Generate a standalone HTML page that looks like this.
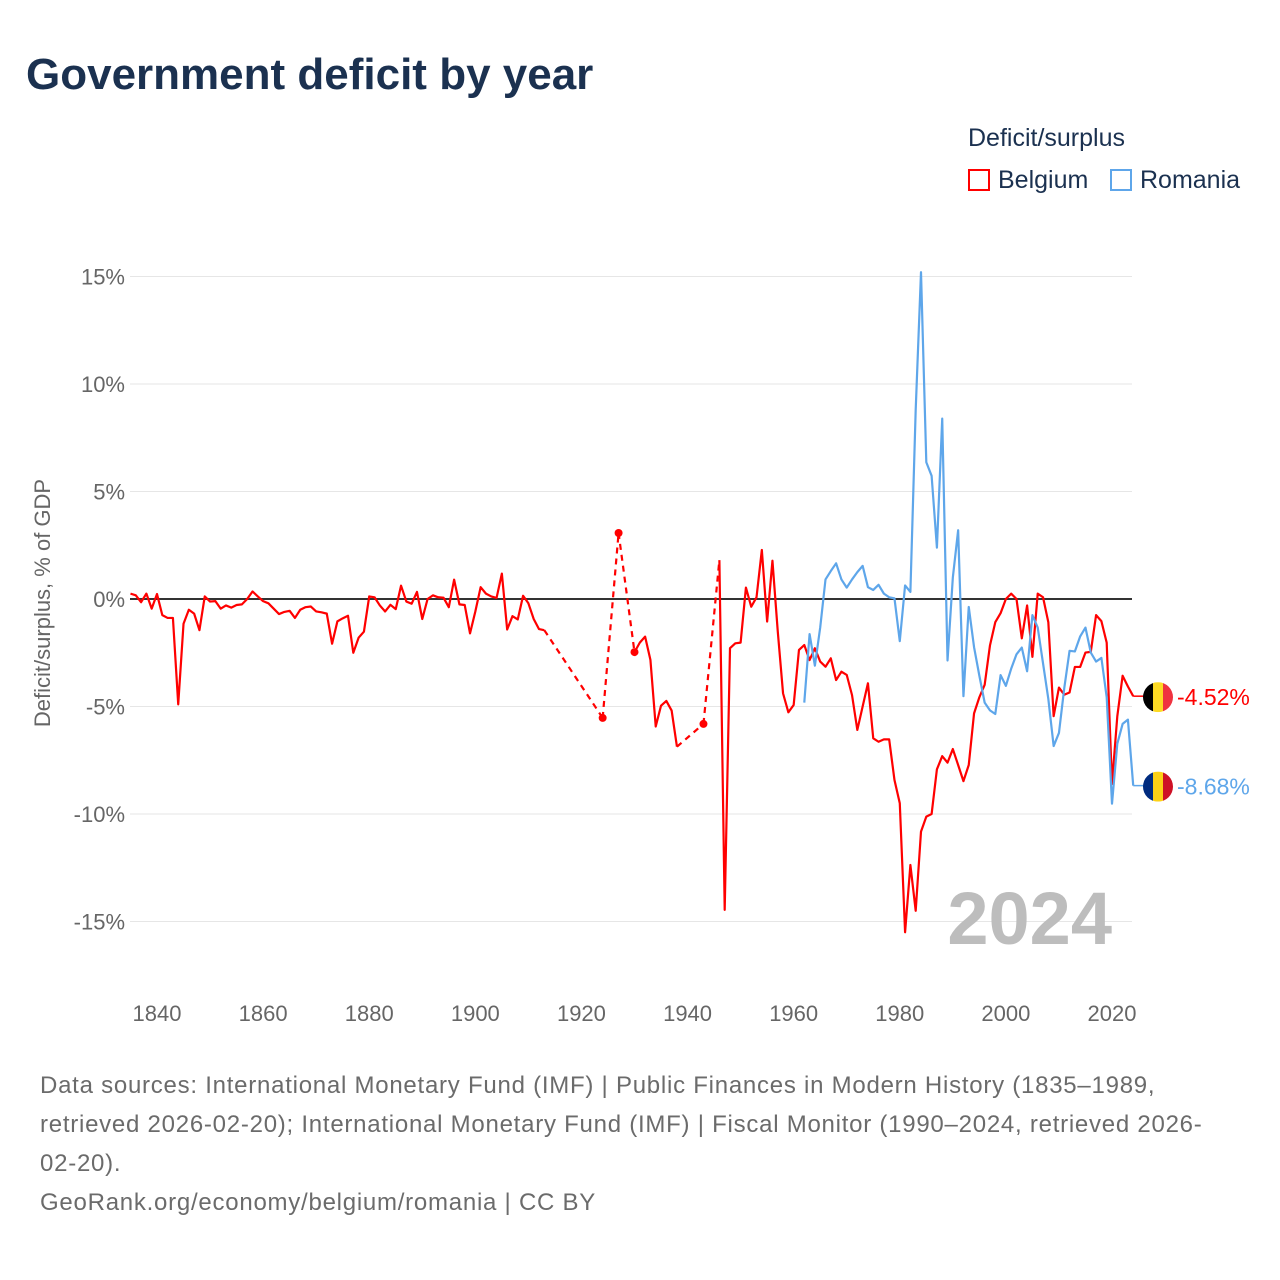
<!DOCTYPE html>
<html><head><meta charset="utf-8">
<style>
body{margin:0;background:#fff;font-family:"Liberation Sans",sans-serif;}
#wrap{position:relative;width:1280px;height:1280px;overflow:hidden;}
.t{position:absolute;white-space:nowrap;}
</style></head>
<body>
<div id="wrap">
<div class="t" style="left:26px;top:50px;font-size:44px;font-weight:bold;color:#1b3150;">Government deficit by year</div>
<div class="t" style="left:968px;top:124px;font-size:25px;color:#1b3150;">Deficit/surplus</div>
<div class="t" style="left:968px;top:166px;font-size:25px;color:#1b3150;"><span style="display:inline-block;width:22px;height:22px;border:2px solid #f00;box-sizing:border-box;vertical-align:-3px;margin-right:8px;"></span>Belgium</div>
<div class="t" style="left:1110px;top:166px;font-size:25px;color:#1b3150;"><span style="display:inline-block;width:22px;height:22px;border:2px solid #5ea6ea;box-sizing:border-box;vertical-align:-3px;margin-right:8px;"></span>Romania</div>
<svg id="chart" width="1280" height="1280" style="position:absolute;left:0;top:0;"></svg>
<div class="t" style="left:40px;top:1066px;font-size:24px;line-height:39px;color:#6b6b6b;letter-spacing:0.75px;">Data sources: International Monetary Fund (IMF) | Public Finances in Modern History (1835–1989,<br>retrieved 2026-02-20); International Monetary Fund (IMF) | Fiscal Monitor (1990–2024, retrieved 2026-<br>02-20).<br>GeoRank.org/economy/belgium/romania | CC BY</div>
</div>
<script>
const belYears=[1835,1836,1837,1838,1839,1840,1841,1842,1843,1844,1845,1846,1847,1848,1849,1850,1851,1852,1853,1854,1855,1856,1857,1858,1859,1860,1861,1862,1863,1864,1865,1866,1867,1868,1869,1870,1871,1872,1873,1874,1875,1876,1877,1878,1879,1880,1881,1882,1883,1884,1885,1886,1887,1888,1889,1890,1891,1892,1893,1894,1895,1896,1897,1898,1899,1900,1901,1902,1903,1904,1905,1906,1907,1908,1909,1910,1911,1912,1913,1924,1927,1930,1931,1932,1933,1934,1935,1936,1937,1938,1943,1946,1947,1948,1949,1950,1951,1952,1953,1954,1955,1956,1957,1958,1959,1960,1961,1962,1963,1964,1965,1966,1967,1968,1969,1970,1971,1972,1973,1974,1975,1976,1977,1978,1979,1980,1981,1982,1983,1984,1985,1986,1987,1988,1989,1990,1991,1992,1993,1994,1995,1996,1997,1998,1999,2000,2001,2002,2003,2004,2005,2006,2007,2008,2009,2010,2011,2012,2013,2014,2015,2016,2017,2018,2019,2020,2021,2022,2023,2024];
const belValues=[0.25,0.17,-0.15,0.25,-0.45,0.23,-0.75,-0.88,-0.88,-4.9,-1.15,-0.5,-0.68,-1.45,0.12,-0.12,-0.1,-0.45,-0.3,-0.4,-0.28,-0.25,0,0.35,0.12,-0.1,-0.2,-0.45,-0.7,-0.6,-0.55,-0.88,-0.5,-0.38,-0.35,-0.58,-0.62,-0.68,-2.08,-1.04,-0.9,-0.78,-2.5,-1.8,-1.52,0.12,0.08,-0.3,-0.58,-0.27,-0.47,0.62,-0.12,-0.22,0.33,-0.93,0,0.17,0.08,0.06,-0.38,0.9,-0.25,-0.28,-1.6,-0.58,0.55,0.25,0.12,0.05,1.18,-1.42,-0.8,-0.95,0.15,-0.2,-0.93,-1.4,-1.45,-5.53,3.07,-2.47,-2.03,-1.75,-2.83,-5.93,-4.96,-4.74,-5.19,-6.87,-5.81,1.81,-14.46,-2.29,-2.06,-2.03,0.53,-0.36,0.08,2.28,-1.05,1.78,-1.5,-4.39,-5.27,-4.93,-2.37,-2.14,-2.84,-2.29,-2.91,-3.15,-2.76,-3.77,-3.38,-3.53,-4.47,-6.09,-5.0,-3.92,-6.48,-6.64,-6.53,-6.53,-8.42,-9.5,-15.5,-12.37,-14.5,-10.82,-10.12,-10.0,-7.92,-7.31,-7.61,-6.98,-7.72,-8.47,-7.72,-5.32,-4.57,-3.99,-2.16,-1.08,-0.66,0,0.25,0.0,-1.83,-0.3,-2.69,0.25,0.08,-1.08,-5.45,-4.12,-4.45,-4.35,-3.16,-3.16,-2.49,-2.46,-0.75,-1.03,-2.03,-8.6,-5.45,-3.57,-4.07,-4.52];
const rouYears=[1962,1963,1964,1965,1966,1967,1968,1969,1970,1971,1972,1973,1974,1975,1976,1977,1978,1979,1980,1981,1982,1983,1984,1985,1986,1987,1988,1989,1990,1991,1992,1993,1994,1995,1996,1997,1998,1999,2000,2001,2002,2003,2004,2005,2006,2007,2008,2009,2010,2011,2012,2013,2014,2015,2016,2017,2018,2019,2020,2021,2022,2023,2024];
const rouValues=[-4.82,-1.63,-3.1,-1.33,0.91,1.3,1.66,0.91,0.53,0.91,1.25,1.54,0.55,0.42,0.66,0.25,0.08,0.03,-1.96,0.63,0.33,8.8,15.2,6.36,5.73,2.39,8.39,-2.86,1.0,3.2,-4.52,-0.37,-2.24,-3.57,-4.82,-5.18,-5.35,-3.54,-4.04,-3.24,-2.57,-2.26,-3.36,-0.75,-1.33,-2.99,-4.65,-6.84,-6.23,-4.15,-2.41,-2.44,-1.74,-1.33,-2.49,-2.91,-2.74,-4.57,-9.52,-6.73,-5.81,-5.61,-8.68];
const yTicks=[15,10,5,0,-5,-10,-15];
const yTickLabels=["15%","10%","5%","0%","-5%","-10%","-15%"];
const xTicks=[1840,1860,1880,1900,1920,1940,1960,1980,2000,2020];

const NS="http://www.w3.org/2000/svg";
const svg=document.getElementById('chart');
const X=y=>157+(y-1840)*(955/180);
const Y=v=>599-v*21.5;
function mk(t,a){const e=document.createElementNS(NS,t);for(const k in a)e.setAttribute(k,a[k]);svg.appendChild(e);return e;}
yTicks.forEach((v,i)=>{
  const g=mk('line',{x1:130,x2:1132,y1:Y(v),y2:Y(v),stroke:v===0?'#333':'#e6e6e6','stroke-width':v===0?2:1});
  
  
  const t=mk('text',{x:125,y:Y(v)+8,'text-anchor':'end','font-size':22,fill:'#666','font-family':'Liberation Sans'});
  t.textContent=yTickLabels[i];
  
  
});
xTicks.forEach(yr=>{
  const t=mk('text',{x:X(yr),y:1021,'text-anchor':'middle','font-size':22,fill:'#666','font-family':'Liberation Sans'});
  t.textContent=yr;
  
  
});
const yt=mk('text',{x:50,y:603,transform:'rotate(-90 50 603)','text-anchor':'middle','font-size':22,fill:'#666','font-family':'Liberation Sans'});
yt.textContent='Deficit/surplus, % of GDP';


const yr=mk('text',{x:1112,y:944,'text-anchor':'end','font-size':74,'font-weight':'bold',fill:'#bdbdbd','font-family':'Liberation Sans'});
yr.textContent='2024';



function drawSeries(years,vals,color,name){
  let solid='';
  for(let i=0;i<years.length;i++){
    const gap=i>0&&years[i]-years[i-1]>1;
    if(gap){
      const l=mk('line',{x1:X(years[i-1]),y1:Y(vals[i-1]),x2:X(years[i]),y2:Y(vals[i]),stroke:color,'stroke-width':2.2,'stroke-dasharray':'6,5'});
      
      
      solid+=' M'+X(years[i])+','+Y(vals[i]);
      if(years[i]<1945){
        const c=mk('circle',{cx:X(years[i]),cy:Y(vals[i]),r:4,fill:color});
        
        
      }
    } else solid+=(i?' L':'M')+X(years[i])+','+Y(vals[i]);
  }
  const p=mk('path',{d:solid,fill:'none',stroke:color,'stroke-width':2.2,'stroke-linejoin':'round'});
  
  
  const last=vals.length-1;
  const ext=mk('line',{x1:X(years[last]),y1:Y(vals[last]),x2:1145,y2:Y(vals[last]),stroke:color,'stroke-width':1.5});
  
  
}
drawSeries(belYears,belValues,'#ff0000','belgium');
drawSeries(rouYears,rouValues,'#5ea6ea','romania');

function flag(cy,colors,label,color,name){
  const id='clip'+name;
  const cp=mk('clipPath',{id:id});const cc=document.createElementNS(NS,'circle');
  cc.setAttribute('cx',1158);cc.setAttribute('cy',cy);cc.setAttribute('r',15);cp.appendChild(cc);
  colors.forEach((c,i)=>{
    const r=mk('rect',{x:1143+i*10,y:cy-15,width:10,height:30,fill:c,'clip-path':'url(#'+id+')'});
    
    
  });
  const t=mk('text',{x:1177,y:cy+8,'font-size':23,fill:color,'font-family':'Liberation Sans'});
  t.textContent=label;
  
  
}
flag(Y(belValues[belValues.length-1])+1,['#000','#fdda24','#ef3340'],'-4.52%','#ff0000','belgium');
flag(Y(rouValues[rouValues.length-1])+1,['#002b7f','#fcd116','#ce1126'],'-8.68%','#5ea6ea','romania');
</script>
</body></html>
